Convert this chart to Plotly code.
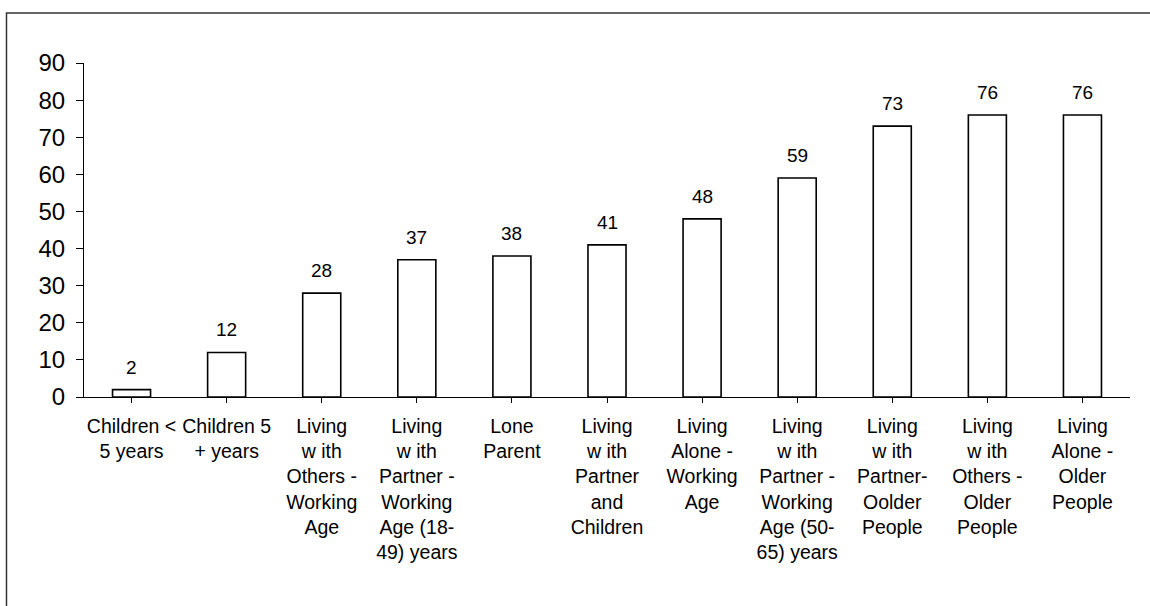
import plotly.graph_objects as go

categories = [
    "Children &lt;<br>5 years",
    "Children 5<br>+ years",
    "Living<br>w ith<br>Others -<br>Working<br>Age",
    "Living<br>w ith<br>Partner -<br>Working<br>Age (18-<br>49) years",
    "Lone<br>Parent",
    "Living<br>w ith<br>Partner<br>and<br>Children",
    "Living<br>Alone -<br>Working<br>Age",
    "Living<br>w ith<br>Partner -<br>Working<br>Age (50-<br>65) years",
    "Living<br>w ith<br>Partner-<br>Oolder<br>People",
    "Living<br>w ith<br>Others -<br>Older<br>People",
    "Living<br>Alone -<br>Older<br>People",
]
values = [2, 12, 28, 37, 38, 41, 48, 59, 73, 76, 76]
y_ticks = [0, 10, 20, 30, 40, 50, 60, 70, 80, 90]

FONT = "Liberation Sans, Arial, sans-serif"

fig = go.Figure()
fig.add_trace(go.Bar(
    x=list(range(len(categories))),
    y=values,
    width=0.4,
    marker=dict(color="white", line=dict(color="black", width=1.6)),
    hoverinfo="skip",
))

# value labels above each bar
for i, v in enumerate(values):
    fig.add_annotation(
        x=i, y=v, text=str(v), showarrow=False,
        yanchor="bottom", yshift=10,
        font=dict(family=FONT, size=19, color="black"),
    )

# frame around the chart
fig.add_shape(
    type="rect", xref="paper", yref="paper",
    x0=-0.0741, x1=1.2, y0=-1.0, y1=1.150,
    line=dict(color="#333333", width=1.5), fillcolor="rgba(0,0,0,0)",
    layer="below",
)

fig.update_layout(
    width=1150, height=606,
    margin=dict(l=84, r=20, t=63, b=209),
    paper_bgcolor="white", plot_bgcolor="white",
    showlegend=False,
    font=dict(family=FONT, color="black"),
    xaxis=dict(
        tickmode="array",
        tickvals=list(range(len(categories))),
        ticktext=categories,
        range=[-0.5, len(categories) - 0.5],
        showline=True, linecolor="black", linewidth=1.2,
        ticks="outside", ticklen=5, tickcolor="black",
        tickson="boundaries",
        tickangle=0,
        ticklabelstandoff=6,
        tickfont=dict(family=FONT, size=19.5, color="black"),
        showgrid=False, zeroline=False, fixedrange=True,
    ),
    yaxis=dict(
        range=[0, 90],
        tickmode="array", tickvals=y_ticks,
        showline=True, linecolor="black", linewidth=1.2,
        ticks="outside", ticklen=7, tickcolor="black",
        ticklabelstandoff=6,
        tickfont=dict(family=FONT, size=24, color="black"),
        showgrid=False, zeroline=False, fixedrange=True,
    ),
)

fig.write_html("out.html")
